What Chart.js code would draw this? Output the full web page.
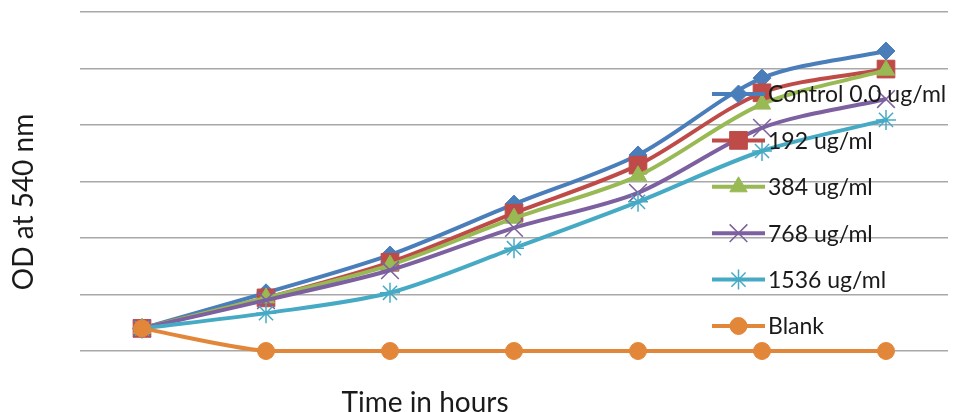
<!DOCTYPE html>
<html>
<head>
<meta charset="utf-8">
<title>OD at 540 nm</title>
<script src="https://cdn.jsdelivr.net/npm/chart.js@4.4.1/dist/chart.umd.min.js"></script>
<style>
  html, body { margin: 0; padding: 0; background: #fff; }
  canvas { display: block; }
</style>
</head>
<body>
<canvas id="odChart" width="953" height="412"></canvas>
<script>
// === DATA ===
const hours = ["0", "1", "2", "3", "4", "5", "6"];
const seriesNames = ["Control 0.0 ug/ml", "192 ug/ml", "384 ug/ml", "768 ug/ml", "1536 ug/ml", "Blank"];
const control = [0.040, 0.103, 0.170, 0.260, 0.347, 0.483, 0.531];
const conc192 = [0.040, 0.094, 0.157, 0.244, 0.329, 0.457, 0.499];
const conc384 = [0.040, 0.094, 0.152, 0.235, 0.310, 0.437, 0.497];
const conc768 = [0.040, 0.090, 0.143, 0.218, 0.280, 0.395, 0.446];
const conc1536 = [0.040, 0.067, 0.103, 0.182, 0.264, 0.354, 0.409];
const blank = [0.040, 0.000, 0.000, 0.000, 0.000, 0.000, 0.000];
const yTicks = [0, 0.1, 0.2, 0.3, 0.4, 0.5, 0.6];

const FONT = "Lato, 'Open Sans', sans-serif";

// style per series: colour, marker, marker radius
const styles = [
  { color: "#4A7EBB", point: "rectRot", r: 9 },
  { color: "#BE4B48", point: "rect", r: 12.5 },
  { color: "#98B954", point: "triangle", r: 10 },
  { color: "#7D60A0", point: "crossRot", r: 12.5 },
  { color: "#46AAC5", point: "star", r: 10 },
  { color: "#E2863A", point: "circle", r: 8.5 }
];

const values = [control, conc192, conc384, conc768, conc1536, blank];

function makeDataset(i) {
  const s = styles[i];
  const open = s.point === "crossRot" || s.point === "star";
  return {
    label: seriesNames[i],
    data: values[i],
    borderColor: s.color,
    backgroundColor: s.color,
    borderWidth: 4,
    tension: 0.3,
    clip: false,
    pointStyle: s.point,
    pointRadius: s.r,
    pointHoverRadius: s.r,
    pointBorderColor: s.color,
    pointBackgroundColor: open ? "transparent" : s.color,
    pointBorderWidth: open ? 1.5 : 1,
    order: values.length - i // later series on top
  };
}

// === LEGEND + AXIS TITLES (drawn over the plot) ===
const overlayPlugin = {
  id: "overlay",
  afterDraw(chart) {
    const ctx = chart.ctx;
    ctx.save();

    // legend, sitting inside the plot on the right
    const x0 = 712, x1 = 765, tx = 768;
    chart.data.datasets.forEach((ds, i) => {
      const y = 94 + i * 46.4;
      ctx.strokeStyle = ds.borderColor;
      ctx.lineWidth = 4;
      ctx.lineCap = "butt";
      ctx.beginPath();
      ctx.moveTo(x0, y);
      ctx.lineTo(x1, y);
      ctx.stroke();

      ctx.fillStyle = ds.pointBackgroundColor;
      ctx.strokeStyle = ds.pointBorderColor;
      ctx.lineWidth = ds.pointBorderWidth;
      Chart.helpers.drawPoint(ctx, { pointStyle: ds.pointStyle, radius: ds.pointRadius, borderWidth: ds.pointBorderWidth, rotation: 0 }, (x0 + x1) / 2, y);

      ctx.fillStyle = "#1a1a1a";
      ctx.font = "23px " + FONT;
      ctx.textAlign = "left";
      ctx.textBaseline = "middle";
      ctx.fillText(ds.label, tx, y + 1);
    });

    // axis titles
    ctx.fillStyle = "#1a1a1a";
    ctx.font = "28px " + FONT;
    ctx.textAlign = "center";
    ctx.textBaseline = "alphabetic";
    ctx.fillText("Time in hours", 425, 412);

    ctx.translate(33, 202);
    ctx.rotate(-Math.PI / 2);
    ctx.fillText("OD at 540 nm", 0, 0);

    ctx.restore();
  }
};

// === CHART ===
const chart = new Chart(document.getElementById("odChart"), {
  type: "line",
  data: {
    labels: hours,
    datasets: values.map((v, i) => makeDataset(i))
  },
  options: {
    responsive: false,
    animation: false,
    events: [],
    layout: { autoPadding: false, padding: { left: 80, right: 5, top: 12, bottom: 61 } },
    plugins: {
      legend: { display: false },
      tooltip: { enabled: false }
    },
    scales: {
      x: {
        type: "category",
        offset: true,
        grid: { display: false, drawTicks: false },
        border: { display: false },
        ticks: { display: false }
      },
      y: {
        min: yTicks[0],
        max: yTicks[yTicks.length - 1],
        afterBuildTicks: axis => { axis.ticks = yTicks.map(v => ({ value: v })); },
        grid: { color: "#A8A8A8", lineWidth: 1.5, drawTicks: false },
        border: { display: false },
        ticks: { display: false }
      }
    }
  },
  plugins: [overlayPlugin]
});
</script>
</body>
</html>
